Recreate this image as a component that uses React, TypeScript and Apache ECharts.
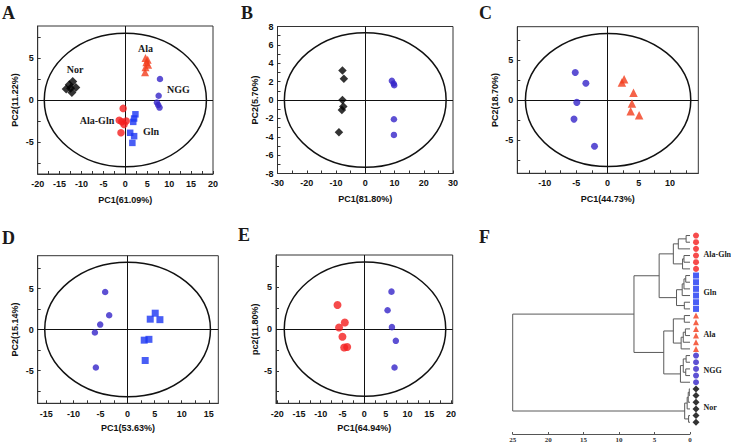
import React, { useEffect, useRef } from "react";
import * as echarts from "echarts";

// ---------- data ----------
const A_Nor = [[-12.0, 2.2], [-12.5, 1.4], [-13.5, 1.3], [-11.3, 1.5], [-12.2, 0.9], [-12.8, 1.8]];
const A_Ala = [[4.6, 5.0], [5.1, 4.8], [4.8, 4.5], [5.2, 4.2], [4.6, 3.9], [4.5, 3.3]];
const A_NGG = [[7.9, 2.5], [7.6, 0.5], [7.2, -0.3], [7.5, -0.6], [7.8, -0.9]];
const A_AlaGln = [[-0.5, -1.0], [-1.4, -2.4], [-0.8, -2.6], [-0.3, -2.9], [0.2, -2.5], [-1.0, -3.9]];
const A_Gln = [[2.3, -1.7], [2.0, -2.2], [1.8, -2.6], [1.1, -3.9], [2.0, -4.3], [1.6, -5.1]];

const B_Nor = [[-7.8, 3.2], [-7.3, 2.3], [-7.8, 0.0], [-7.5, -0.7], [-8.0, -1.1], [-9.0, -3.5]];
const B_NGG = [[9.1, 2.1], [9.7, 1.8], [9.9, 1.6], [9.8, -2.1], [9.8, -3.8]];

const C_NGG = [[-5.15, 3.45], [-3.45, 2.1], [-4.9, -0.3], [-5.35, -2.4], [-2.07, -5.8]];
const C_Ala = [[2.66, 2.6], [2.3, 2.2], [4.15, 0.9], [3.9, -0.45], [3.7, -1.4], [5.05, -1.9]];

const D_NGG = [[-4.14, 4.58], [-3.4, 1.74], [-5.06, 0.6], [-6.04, -0.37], [-5.86, -4.63]];
const D_Gln = [[4.18, 1.26], [5.1, 1.99], [5.97, 1.2], [3.07, -1.3], [3.94, -1.2], [3.25, -3.78]];

const E_AlaGln = [[-6.14, 2.9], [-4.45, 0.8], [-5.77, 0.2], [-5.0, -0.92], [-4.6, -2.2], [-3.9, -2.15]];
const E_NGG = [[6.3, 4.5], [5.4, 2.27], [6.4, 0.24], [7.3, -1.4], [7.0, -4.6]];

// confidence ellipses: [cx, cy, rx, ry]
const ellipseA = [0, 0, 18.5, 7.95];
const ellipseB = [0, 0, 27.65, 7.33];
const ellipseC = [0.1, 0, 13.2, 8.35];
const ellipseD = [0, 0, 15.3, 8.2];
const ellipseE = [0.2, 0, 18.6, 8.05];

// axis titles
const titlesA = ["PC1(61.09%)", "PC2(11.22%)"];
const titlesB = ["PC1(81.80%)", "PC2(5.70%)"];
const titlesC = ["PC1(44.73%)", "PC2(18.70%)"];
const titlesD = ["PC1(53.63%)", "PC2(15.14%)"];
const titlesE = ["PC1(64.94%)", "pc2(11.80%)"];

// tick labels and tick marks
const xLabA = [-20, -15, -10, -5, 0, 5, 10, 15, 20];
const xTickA = [-20, -17.5, -15, -12.5, -10, -7.5, -5, -2.5, 0, 2.5, 5, 7.5, 10, 12.5, 15, 17.5, 20];
const yLab5 = [-5, 0, 5];
const yTick5 = [-7.5, -5, -2.5, 0, 2.5, 5, 7.5];
const xLabB = [-30, -20, -10, 0, 10, 20, 30];
const xTickB = [-30, -25, -20, -15, -10, -5, 0, 5, 10, 15, 20, 25, 30];
const yLabB = [-8, -6, -4, -2, 0, 2, 4, 6, 8];
const yTickB = [-8, -7, -6, -5, -4, -3, -2, -1, 0, 1, 2, 3, 4, 5, 6, 7, 8];
const xLabC = [-10, -5, 0, 5, 10];
const xTickC = [-12.5, -10, -7.5, -5, -2.5, 0, 2.5, 5, 7.5, 10, 12.5];
const xLabD = [-15, -10, -5, 0, 5, 10, 15];
const xTickD = [-15, -12.5, -10, -7.5, -5, -2.5, 0, 2.5, 5, 7.5, 10, 12.5, 15];

// dendrogram (panel F)
const dendroGroups = ["Ala-Gln", "Gln", "Ala", "NGG", "Nor"];
const dendroCounts = [6, 6, 6, 5, 6];
// merges: [childA, childB, height]; leaves 0..28, merged clusters numbered from 29
const dendroMerges = [
  [0, 1, 0.55], [29, 2, 1.65], [3, 4, 0.85], [31, 5, 1.05], [30, 32, 2.35],
  [6, 7, 0.6], [34, 8, 0.85], [35, 9, 1.1], [10, 11, 0.8], [36, 37, 1.9], [33, 38, 4.35],
  [12, 13, 0.8], [14, 15, 0.65], [41, 16, 0.95], [42, 17, 1.25], [40, 43, 2.35],
  [18, 19, 0.55], [20, 21, 0.6], [45, 46, 0.95], [47, 22, 1.35], [44, 48, 3.7], [39, 49, 7.9],
  [23, 24, 0.1], [51, 25, 0.25], [52, 26, 0.4], [27, 28, 0.2], [53, 54, 0.75], [50, 55, 25],
];
const dendroTicks = [0, 5, 10, 15, 20, 25];

// ---------- styles ----------
const STY: any = {
  Nor: { symbol: "diamond", color: "#000000", size: 9 },
  Ala: { symbol: "triangle", color: "#f23c1c", size: 8 },
  NGG: { symbol: "circle", color: "#3524c8", size: 6.5 },
  "Ala-Gln": { symbol: "circle", color: "#f41e1e", size: 7.5 },
  Gln: { symbol: "rect", color: "#1c36f2", size: 6.5 },
};

const SANS = "Liberation Sans";
const SERIF = "Liberation Serif";

function scatter(idx: number, group: string, data: number[][], size?: number) {
  const s = STY[group];
  return {
    type: "scatter",
    name: group,
    xAxisIndex: idx,
    yAxisIndex: idx,
    data,
    symbol: s.symbol,
    symbolSize: size ?? s.size,
    itemStyle: { color: s.color },
    z: 5,
  };
}

function ellipseSeries(idx: number, e: number[]) {
  return {
    type: "custom",
    xAxisIndex: idx,
    yAxisIndex: idx,
    data: [e],
    silent: true,
    z: 2,
    renderItem: (params: any, api: any) => {
      const c = api.coord([api.value(0), api.value(1)]);
      const s = api.size([api.value(2), api.value(3)]);
      return {
        type: "ellipse",
        shape: { cx: c[0], cy: c[1], rx: s[0], ry: s[1] },
        style: { fill: "none", stroke: "#111", lineWidth: 1.5 },
      };
    },
    markLine: {
      silent: true,
      symbol: "none",
      label: { show: false },
      lineStyle: { color: "#111", width: 1, type: "solid" },
      data: [{ xAxis: 0 }, { yAxis: 0 }],
    },
  };
}

function xAxisPCA(idx: number, min: number, max: number, labels: number[], ticks: number[], name: string, gap: number, margin: number) {
  return {
    type: "value",
    gridIndex: idx,
    min,
    max,
    name,
    nameLocation: "middle",
    nameGap: gap,
    nameTextStyle: { fontFamily: SANS, fontWeight: "bold", fontSize: 9, color: "#111" },
    axisLine: { show: true, onZero: false, lineStyle: { color: "#333", width: 1 } },
    axisTick: { show: true, inside: true, length: 3, customValues: ticks, lineStyle: { color: "#333" } },
    axisLabel: { customValues: labels, fontFamily: SANS, fontWeight: "bold", fontSize: 9, color: "#111", margin },
    splitLine: { show: false },
  };
}

function yAxisPCA(idx: number, min: number, max: number, labels: number[], ticks: number[], name: string, gap: number) {
  return {
    type: "value",
    gridIndex: idx,
    min,
    max,
    name,
    nameLocation: "middle",
    nameGap: gap,
    nameTextStyle: { fontFamily: SANS, fontWeight: "bold", fontSize: 9, color: "#111" },
    axisLine: { show: true, onZero: false, lineStyle: { color: "#333", width: 1 } },
    axisTick: { show: true, inside: true, length: 3, customValues: ticks, lineStyle: { color: "#333" } },
    axisLabel: { customValues: labels, fontFamily: SANS, fontWeight: "bold", fontSize: 9, color: "#111", margin: 4 },
    splitLine: { show: false },
  };
}

function buildDendro() {
  const nLeaves = dendroCounts.reduce((a, b) => a + b, 0);
  const pos: number[] = [];
  const hgt: number[] = [];
  for (let i = 0; i < nLeaves; i++) { pos.push(i); hgt.push(0); }
  const segs: number[][] = [];
  dendroMerges.forEach(([a, b, h]) => {
    segs.push([h, pos[a], pos[b], hgt[a], hgt[b]]);
    pos.push((pos[a] + pos[b]) / 2);
    hgt.push(h);
  });
  const leafSeries: any[] = [];
  let k = 0;
  dendroGroups.forEach((g, gi) => {
    const data: number[][] = [];
    for (let j = 0; j < dendroCounts[gi]; j++) { data.push([-0.85, k]); k++; }
    const s = STY[g];
    leafSeries.push({
      type: "scatter",
      xAxisIndex: 5,
      yAxisIndex: 5,
      data,
      symbol: s.symbol,
      symbolSize: g === "Nor" ? 7 : 6,
      itemStyle: { color: s.color },
      clip: false,
      z: 5,
    });
  });
  return { segs, leafSeries, nLeaves };
}

const grids = [
  { left: 37.7, top: 26, width: 175.3, height: 148 },
  { left: 277.5, top: 26.5, width: 175.5, height: 147 },
  { left: 517.3, top: 26.7, width: 181, height: 146.6 },
  { left: 37.7, top: 255.7, width: 180.6, height: 147.6 },
  { left: 276, top: 255, width: 176.7, height: 148.3 },
  { left: 512.7, top: 232.2, width: 177.3, height: 201.8 },
];

export default function App() {
  const ref = useRef<HTMLDivElement>(null);
  useEffect(() => {
    document.body.style.margin = "0";
    if (!ref.current) return;
    const chart = echarts.init(ref.current, undefined, { renderer: "svg" });
    const { segs, leafSeries } = buildDendro();

    const txt = (text: string, x: number, y: number, size: number, align = "center") => ({
      type: "text",
      x,
      y,
      silent: true,
      style: {
        text,
        font: `bold ${size}px "${SERIF}"`,
        fill: "#1a1a1a",
        align,
        verticalAlign: "middle",
        textAlign: align,
        textVerticalAlign: "middle",
      },
    });

    const option: any = {
      animation: false,
      backgroundColor: "#ffffff",
      grid: grids.map((g, i) => ({
        ...g,
        show: i < 5,
        borderColor: "#333",
        borderWidth: 1,
        backgroundColor: "transparent",
      })),
      xAxis: [
        xAxisPCA(0, -20, 20, xLabA, xTickA, titlesA[0], 21, 5),
        xAxisPCA(1, -30, 30, xLabB, xTickB, titlesB[0], 21, 5),
        xAxisPCA(2, -14.4, 14.5, xLabC, xTickC, titlesC[0], 21, 5),
        xAxisPCA(3, -16.6, 16.75, xLabD, xTickD, titlesD[0], 20, 6),
        xAxisPCA(4, -20.3, 20.4, xLabA, xTickA, titlesE[0], 20, 6),
        {
          type: "value",
          gridIndex: 5,
          min: 0,
          max: 25,
          interval: 5,
          inverse: true,
          axisLine: { show: true, onZero: false, lineStyle: { color: "#555", width: 1 } },
          axisTick: { show: true, inside: true, length: 2, customValues: dendroTicks, lineStyle: { color: "#555" } },
          axisLabel: { fontFamily: SERIF, fontWeight: "bold", fontSize: 7, color: "#333", margin: 2 },
          splitLine: { show: false },
        },
      ],
      yAxis: [
        yAxisPCA(0, -8.8, 8.8, yLab5, yTick5, titlesA[1], 18),
        yAxisPCA(1, -8, 8, yLabB, yTickB, titlesB[1], 18),
        yAxisPCA(2, -9.2, 9.2, yLab5, yTick5, titlesC[1], 17.5),
        yAxisPCA(3, -9, 9, yLab5, yTick5, titlesD[1], 18),
        yAxisPCA(4, -8.9, 8.9, yLab5, yTick5, titlesE[1], 17),
        {
          type: "value",
          gridIndex: 5,
          min: -0.5,
          max: 29.76,
          inverse: true,
          show: false,
        },
      ],
      series: [
        ellipseSeries(0, ellipseA),
        scatter(0, "Nor", A_Nor),
        scatter(0, "Ala", A_Ala),
        scatter(0, "NGG", A_NGG),
        scatter(0, "Ala-Gln", A_AlaGln),
        scatter(0, "Gln", A_Gln),
        ellipseSeries(1, ellipseB),
        scatter(1, "Nor", B_Nor, 8.5),
        scatter(1, "NGG", B_NGG, 6.5),
        ellipseSeries(2, ellipseC),
        scatter(2, "NGG", C_NGG, 7),
        scatter(2, "Ala", C_Ala, 8.5),
        ellipseSeries(3, ellipseD),
        scatter(3, "NGG", D_NGG, 6.5),
        scatter(3, "Gln", D_Gln, 7),
        ellipseSeries(4, ellipseE),
        scatter(4, "Ala-Gln", E_AlaGln, 8),
        scatter(4, "NGG", E_NGG, 6.5),
        {
          type: "custom",
          xAxisIndex: 5,
          yAxisIndex: 5,
          data: segs,
          clip: false,
          silent: true,
          renderItem: (params: any, api: any) => {
            const h = api.value(0), yA = api.value(1), yB = api.value(2), hA = api.value(3), hB = api.value(4);
            const p1 = api.coord([hA, yA]);
            const p2 = api.coord([h, yA]);
            const p3 = api.coord([h, yB]);
            const p4 = api.coord([hB, yB]);
            return {
              type: "polyline",
              shape: { points: [p1, p2, p3, p4] },
              style: { stroke: "#5a5a5a", lineWidth: 1, fill: "none" },
            };
          },
        },
        ...leafSeries,
      ],
      graphic: [
        // panel letters
        txt("A", 2, 12.5, 18, "left"),
        txt("B", 241, 12.5, 18, "left"),
        txt("C", 479, 12.5, 18, "left"),
        txt("D", 2, 238, 18, "left"),
        txt("E", 238, 235, 18, "left"),
        txt("F", 479, 237, 18, "left"),
        // panel A group labels
        txt("Nor", 75, 69, 10),
        txt("Ala", 145.5, 48, 10),
        txt("NGG", 178.5, 89, 10),
        txt("Ala-Gln", 97, 120, 10),
        txt("Gln", 151, 131, 10),
        // panel F group labels
        txt("Ala-Gln", 703.5, 254, 8, "left"),
        txt("Gln", 703.5, 292, 8, "left"),
        txt("Ala", 703.5, 334, 8, "left"),
        txt("NGG", 703.5, 370, 8, "left"),
        txt("Nor", 703.5, 407, 8, "left"),
      ],
    };
    chart.setOption(option);
    return () => chart.dispose();
  }, []);
  return <div ref={ref} style={{ width: 731, height: 445 }} />;
}
